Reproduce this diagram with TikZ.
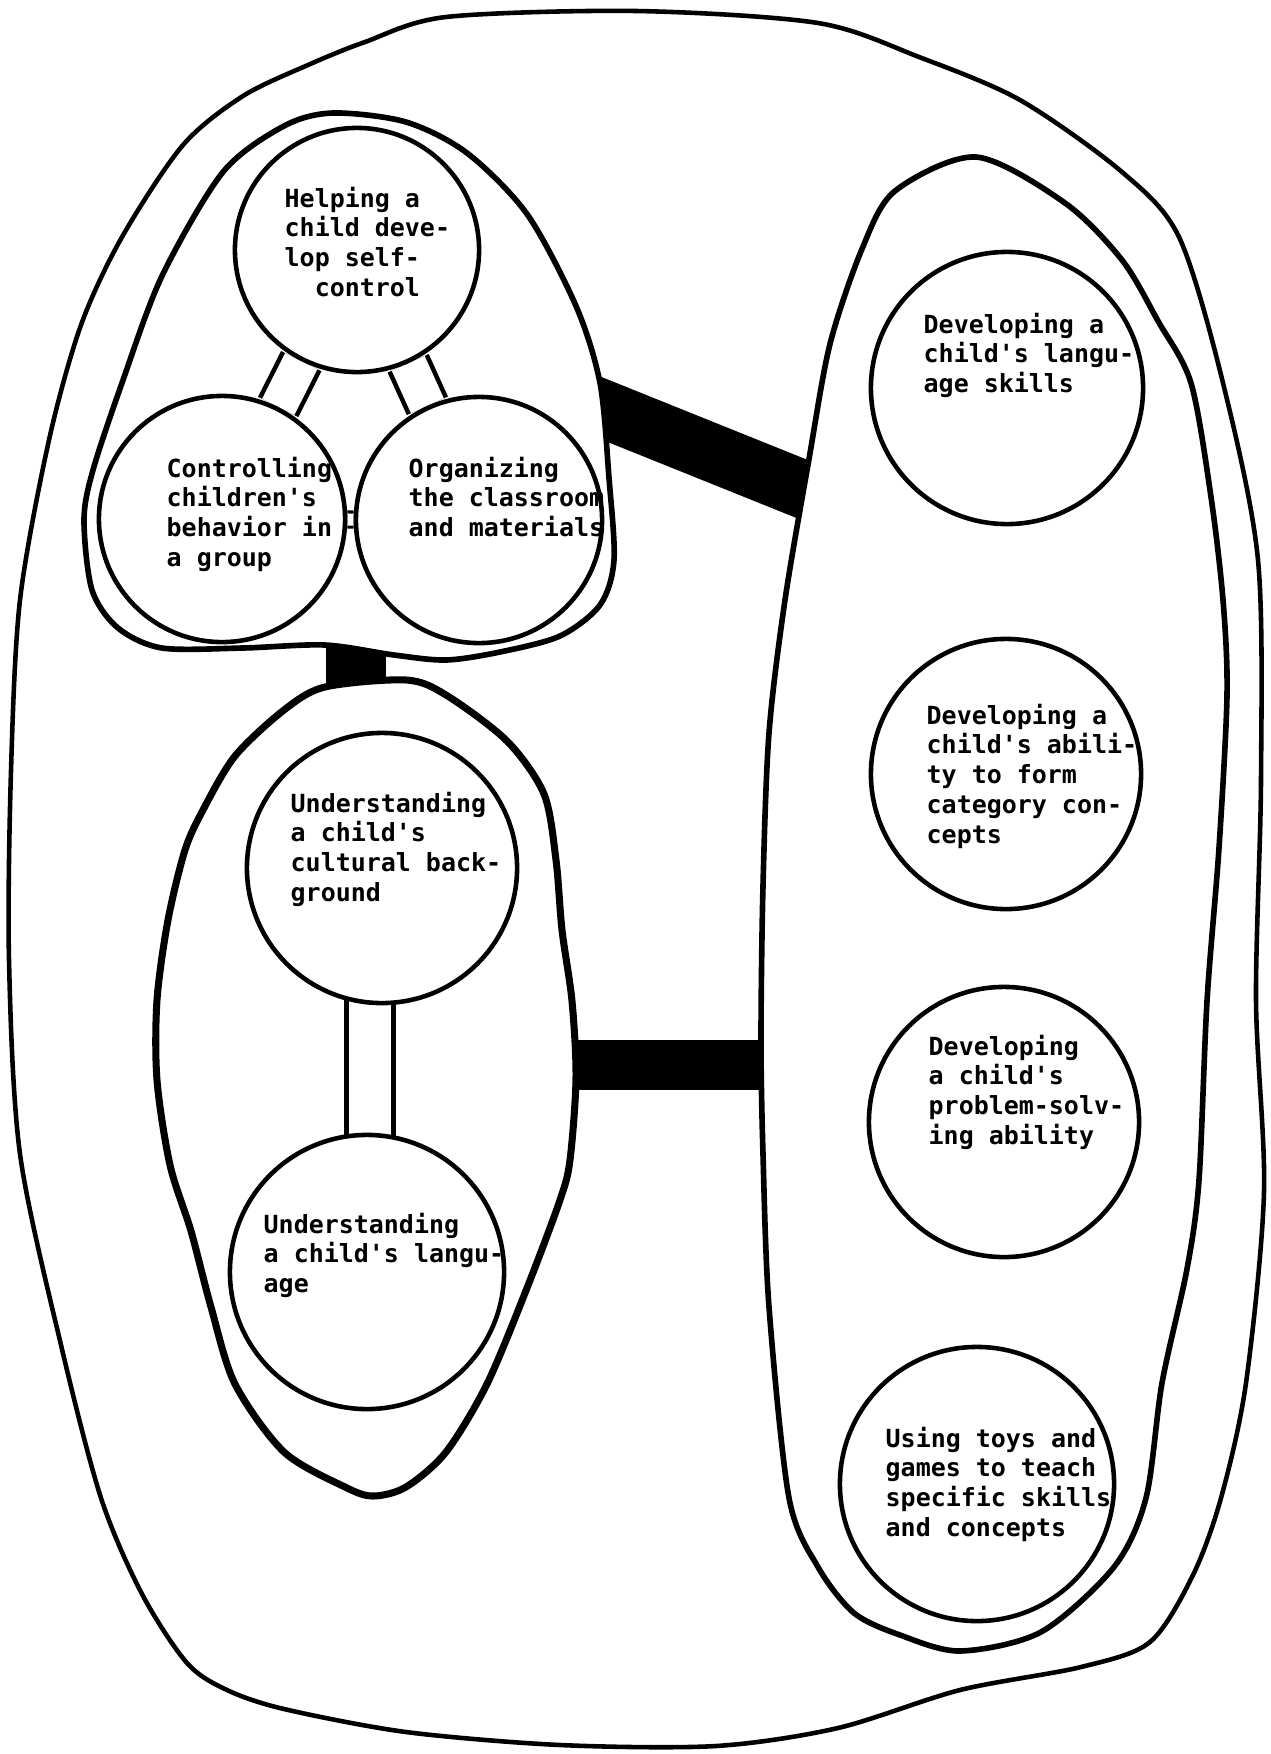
\documentclass[tikz,border=0pt]{standalone}
\usepackage{fontspec}
\setmonofont{DejaVu Sans Mono}
\pgfdeclarelayer{beams}
\pgfdeclarelayer{blobs}
\pgfdeclarelayer{links}
\pgfsetlayers{beams,blobs,links,main}
\tikzset{ring/.style = {draw, circle, fill=white, line width=1.3pt, inner sep=0}}
\tikzset{blob/.style = {draw, fill=white, line width=1.6pt}}
\tikzset{shell/.style = {draw, line width=1.3pt}}
\tikzset{beam/.style = {draw, line width=#1}, beam/.default=0.58cm}
\tikzset{link/.style = {double, double distance=0.36cm, line width=1.3pt}}
\tikzset{txt/.style = {font=\fontsize{7.1}{8.5}\selectfont\ttfamily\bfseries, align=left, anchor=north west, inner sep=0}}

\begin{document}
\begin{tikzpicture}[x=0.01cm, y=-0.01cm]
      \useasboundingbox (0, 0) rectangle (1271, 1754);

      % circles
      \node[ring, minimum size=2.44cm] (help) at (357, 250) {};
      \node[ring, minimum size=2.46cm] (ctrl) at (222, 519) {};
      \node[ring, minimum size=2.46cm] (orgz) at (479, 520) {};
      \node[ring, minimum size=2.70cm] (cult) at (382, 868) {};
      \node[ring, minimum size=2.74cm] (lang) at (367, 1272) {};
      \node[ring, minimum size=2.72cm] (skill) at (1007, 388) {};
      \node[ring, minimum size=2.70cm] (categ) at (1006, 774) {};
      \node[ring, minimum size=2.70cm] (probl) at (1004, 1122) {};
      \node[ring, minimum size=2.74cm] (toys) at (977, 1484) {};

      \node[txt] (help-t) at (284, 186) {Helping a\\child deve-\\lop self-\\\phantom{ch}control};
      \node[txt] (ctrl-t) at (166, 456) {Controlling\\children's\\behavior in\\a group};
      \node[txt] (orgz-t) at (408, 456) {Organizing\\the classroom\\and materials};
      \node[txt] (cult-t) at (290, 791) {Understanding\\a child's\\cultural back-\\ground};
      \node[txt] (lang-t) at (263, 1212) {Understanding\\a child's langu-\\age};
      \node[txt] (skill-t) at (923, 312) {Developing a\\child's langu-\\age skills};
      \node[txt] (categ-t) at (926, 703) {Developing a\\child's abili-\\ty to form\\category con-\\cepts};
      \node[txt] (probl-t) at (928, 1034) {Developing\\a child's\\problem-solv-\\ing ability};
      \node[txt] (toys-t) at (885, 1426) {Using toys and\\games to teach\\specific skills\\and concepts};

      % double bars between circles
      \begin{pgfonlayer}{links}
        \draw[link] (help) -- (ctrl);
        \draw[link] (help) -- (orgz);
        \draw[link, double distance=0.12cm, line width=0.9pt] (ctrl) -- (orgz);
        \draw[link, double distance=0.42cm] ([xshift=0.03cm]lang.center) -- ([xshift=0.03cm]lang |- cult);
      \end{pgfonlayer}

      % groups
      \begin{pgfonlayer}{blobs}
        \draw[blob] plot[smooth cycle] coordinates {(333, 113) (406, 122) (467, 153) (527, 214) (576, 306) (600, 383) (609, 478) (614, 560) (600, 605) (560, 636) (500, 652) (446, 660) (394, 655) (325, 645) (243, 648) (162, 648) (118, 628) (92, 590) (84, 520) (93, 470) (122, 383) (162, 276) (223, 172) (284, 126)};
        \draw[blob, line width=2pt] plot[smooth cycle] coordinates {(325, 687) (406, 680) (446, 695) (507, 741) (544, 794) (556, 860) (562, 930) (572, 1001) (576, 1078) (570, 1160) (560, 1200) (527, 1288) (487, 1384) (446, 1452) (406, 1487) (373, 1496) (345, 1487) (284, 1452) (235, 1384) (211, 1307) (191, 1231) (170, 1165) (157, 1080) (157, 1000) (168, 920) (185, 850) (203, 810) (235, 756) (284, 710)};
        \draw[blob] plot[smooth cycle] coordinates {(976, 157) (1065, 203) (1122, 260) (1158, 321) (1191, 383) (1211, 497) (1223, 600) (1227, 695) (1219, 848) (1207, 1001) (1199, 1180) (1187, 1269) (1162, 1383) (1146, 1498) (1114, 1567) (1041, 1632) (960, 1651) (900, 1635) (854, 1613) (818, 1567) (789, 1498) (769, 1307) (763, 1154) (761, 1039) (763, 886) (769, 733) (785, 600) (809, 459) (830, 344) (862, 249) (895, 191)};
      \end{pgfonlayer}

      % black bars and outer line
      \begin{pgfonlayer}{beams}
        \draw[shell] plot[smooth cycle] coordinates {(446, 17) (636, 11) (818, 23) (919, 57) (1020, 100) (1122, 172) (1179, 237) (1223, 383) (1258, 560) (1261, 780) (1256, 1000) (1264, 1192) (1246, 1383) (1221, 1498) (1193, 1575) (1150, 1642) (1081, 1667) (960, 1690) (838, 1728) (716, 1746) (560, 1745) (406, 1732) (284, 1709) (227, 1690) (187, 1663) (142, 1594) (101, 1498) (61, 1345) (20, 1154) (9, 960) (11, 771) (20, 600) (49, 440) (81, 325) (122, 237) (183, 145) (243, 96) (308, 65) (365, 42)};
        \coordinate (tl-e) at (576, 398);
        \coordinate (r-w) at (832, 501);
        \coordinate (tl-s) at (356, 610);
        \coordinate (bl-n) at (356, 720);
        \coordinate (bl-e) at (545, 1065);
        \coordinate (r-sw) at (795, 1065);
        \draw[beam] (tl-e) -- (r-w);
        \draw[beam=0.6cm] (tl-s) -- (bl-n);
        \draw[beam=0.5cm] (bl-e) -- (r-sw);
      \end{pgfonlayer}
    \end{tikzpicture}
\end{document}
